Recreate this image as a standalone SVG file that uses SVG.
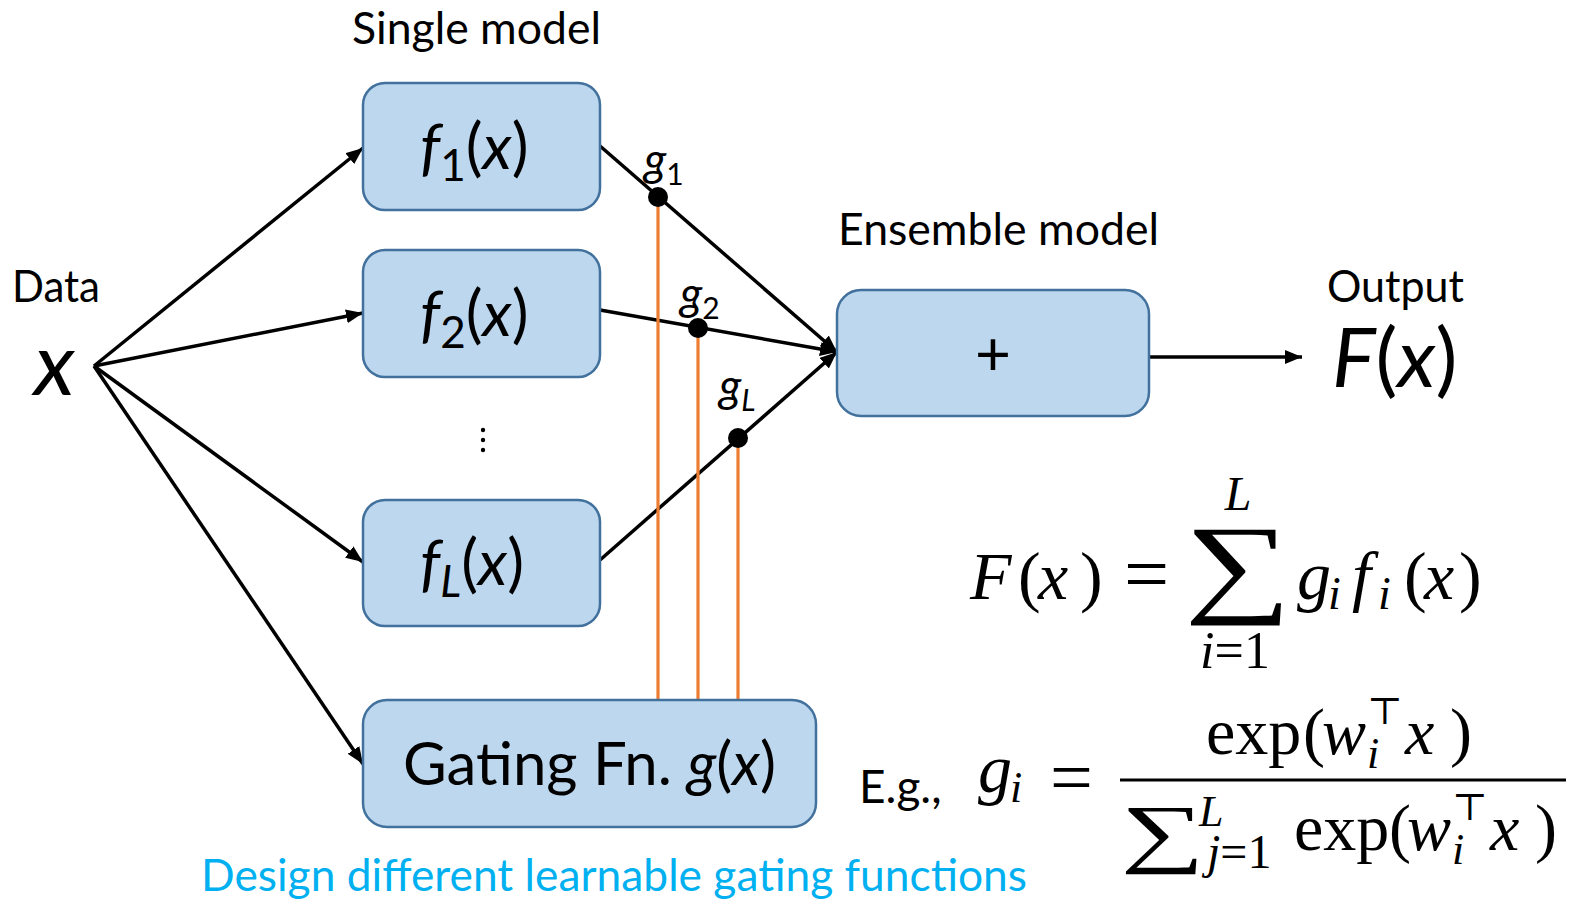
<svg xmlns="http://www.w3.org/2000/svg" width="1579" height="901" viewBox="0 0 1579 901">
<defs>
<style>
.box{fill:#BDD7EE;stroke:#41719C;stroke-width:2.5}
.lbl{font-family:Lato,"Noto Sans","Liberation Sans",sans-serif;fill:#000}
.it{font-style:italic}
.ln{stroke:#000;stroke-width:3.5;fill:none}
.arr{marker-end:url(#ah)}
.og{stroke:#ED7D31;stroke-width:3.2}
.m{font-family:"Liberation Serif","DejaVu Serif",serif;fill:#000}
</style>
<marker id="ah" markerUnits="userSpaceOnUse" markerWidth="18" markerHeight="14" refX="17" refY="7" orient="auto">
<path d="M0,0 L17,7 L0,14 z" fill="#000"/>
</marker>
</defs>
<rect width="1579" height="901" fill="#fff"/>

<g id="connectors">
<line class="ln arr" x1="94" y1="366" x2="363" y2="148"/>
<line class="ln arr" x1="94" y1="366" x2="363" y2="313"/>
<line class="ln arr" x1="94" y1="366" x2="363" y2="562"/>
<line class="ln arr" x1="94" y1="366" x2="363" y2="764"/>
<line class="ln arr" x1="600" y1="146" x2="837" y2="352"/>
<line class="ln arr" x1="600" y1="310" x2="837" y2="352"/>
<line class="ln arr" x1="600" y1="560" x2="837" y2="352"/>
<line class="ln arr" x1="1149" y1="357" x2="1302" y2="357"/>
<line class="og" x1="658" y1="197" x2="658" y2="701"/>
<line class="og" x1="698" y1="328" x2="698" y2="701"/>
<line class="og" x1="738" y1="438" x2="738" y2="701"/>
<circle cx="658" cy="197" r="10" fill="#000"/>
<circle cx="698" cy="328" r="10" fill="#000"/>
<circle cx="738" cy="438" r="10" fill="#000"/>
<text class="lbl it" x="644" y="176" font-size="46">g<tspan font-style="normal" font-size="30" dy="9">1</tspan></text>
<text class="lbl it" x="680" y="310" font-size="46">g<tspan font-style="normal" font-size="30" dy="9">2</tspan></text>
<text class="lbl it" x="719" y="402" font-size="46">g<tspan font-size="30" dy="9">L</tspan></text>
</g>

<g id="title">
<text class="lbl" x="352" y="44" font-size="44" textLength="249" lengthAdjust="spacingAndGlyphs">Single model</text>
</g>

<g id="data">
<text class="lbl" x="12" y="302" font-size="44" textLength="88" lengthAdjust="spacingAndGlyphs">Data</text>
<text class="lbl it" x="34" y="395" font-size="88">x</text>
</g>

<g id="f1">
<rect class="box" x="363" y="83" width="237" height="127" rx="22"/>
<text class="lbl" x="420" y="169" font-size="63"><tspan class="it">f</tspan><tspan font-size="44" dy="12">1</tspan><tspan dy="-12">(</tspan><tspan class="it">x</tspan>)</text>
</g>

<g id="f2">
<rect class="box" x="363" y="250" width="237" height="127" rx="22"/>
<text class="lbl" x="420" y="336" font-size="63"><tspan class="it">f</tspan><tspan font-size="44" dy="12">2</tspan><tspan dy="-12">(</tspan><tspan class="it">x</tspan>)</text>
</g>

<g id="dots">
<circle cx="483" cy="430" r="2.2" fill="#000"/>
<circle cx="483" cy="440" r="2.2" fill="#000"/>
<circle cx="483" cy="450" r="2.2" fill="#000"/>
</g>

<g id="fL">
<rect class="box" x="363" y="500" width="237" height="126" rx="22"/>
<text class="lbl" x="420" y="585" font-size="63"><tspan class="it">f</tspan><tspan class="it" font-size="44" dy="12">L</tspan><tspan dy="-12">(</tspan><tspan class="it">x</tspan>)</text>
</g>

<g id="gating">
<rect class="box" x="363" y="700" width="453" height="127" rx="24"/>
<text class="lbl" x="403" y="785" font-size="60" textLength="373" lengthAdjust="spacingAndGlyphs">Gating Fn. <tspan class="it">g</tspan>(<tspan class="it">x</tspan>)</text>
</g>

<g id="ensemble">
<text class="lbl" x="838" y="245" font-size="44" textLength="321" lengthAdjust="spacingAndGlyphs">Ensemble model</text>
<rect class="box" x="837" y="290" width="312" height="126" rx="24"/>
<text class="lbl" x="993" y="375" font-size="62" text-anchor="middle">+</text>
</g>

<g id="output">
<text class="lbl" x="1327" y="302" font-size="44" textLength="137" lengthAdjust="spacingAndGlyphs">Output</text>
<text class="lbl" x="1332" y="387" font-size="82"><tspan class="it">F</tspan>(<tspan class="it">x</tspan>)</text>
</g>

<g id="formula1">
<text class="m it" x="970" y="599" font-size="68">F</text>
<text class="m" x="1018" y="599" font-size="68">(</text>
<text class="m it" x="1038" y="599" font-size="68">x</text>
<text class="m" x="1080" y="599" font-size="68">)</text>
<text class="m" x="1124" y="601" font-size="80">=</text>
<text class="m" transform="translate(1238,602) scale(1.32,0.97)" font-size="114" text-anchor="middle">∑</text>
<text class="m it" x="1238" y="510" font-size="48" text-anchor="middle">L</text>
<text class="m" x="1235" y="668" font-size="52" text-anchor="middle"><tspan class="it">i</tspan>=1</text>
<text class="m it" x="1297" y="599" font-size="68">g</text>
<text class="m it" x="1328" y="609" font-size="46">i</text>
<text class="m it" x="1352" y="599" font-size="68">f</text>
<text class="m it" x="1378" y="609" font-size="46">i</text>
<text class="m" x="1404" y="599" font-size="68">(</text>
<text class="m it" x="1424" y="599" font-size="68">x</text>
<text class="m" x="1459" y="599" font-size="68">)</text>
</g>

<g id="formula2">
<text class="lbl" x="859" y="803" font-size="46">E.g.,</text>
<text class="m it" x="978" y="792" font-size="68">g</text>
<text class="m it" x="1010" y="802" font-size="44">i</text>
<text class="m" x="1050" y="803" font-size="76">=</text>
<line x1="1120" y1="780" x2="1566" y2="780" stroke="#000" stroke-width="3"/>
<text class="m" x="1206" y="754" font-size="66">exp</text>
<text class="m" x="1303" y="754" font-size="66">(</text>
<text class="m it" x="1322" y="754" font-size="66">w</text>
<text class="m" x="1367" y="724" font-size="38">⊤</text>
<text class="m it" x="1367" y="768" font-size="44">i</text>
<text class="m it" x="1405" y="754" font-size="66">x</text>
<text class="m" x="1450" y="754" font-size="66">)</text>
<text class="m" transform="translate(1121,858) scale(1.55,1)" font-size="76">∑</text>
<text class="m it" x="1199" y="826" font-size="44">L</text>
<text class="m" x="1207" y="868" font-size="48"><tspan class="it">j</tspan>=1</text>
<text class="m" x="1294" y="850" font-size="66">exp</text>
<text class="m" x="1389" y="850" font-size="66">(</text>
<text class="m it" x="1407" y="850" font-size="66">w</text>
<text class="m" x="1452" y="820" font-size="38">⊤</text>
<text class="m it" x="1452" y="864" font-size="44">i</text>
<text class="m it" x="1490" y="850" font-size="66">x</text>
<text class="m" x="1535" y="850" font-size="66">)</text>
</g>

<g id="caption">
<text class="lbl" x="201" y="891" font-size="44" style="fill:#00B0F0" textLength="826" lengthAdjust="spacingAndGlyphs">Design different learnable gating functions</text>
</g>
</svg>
